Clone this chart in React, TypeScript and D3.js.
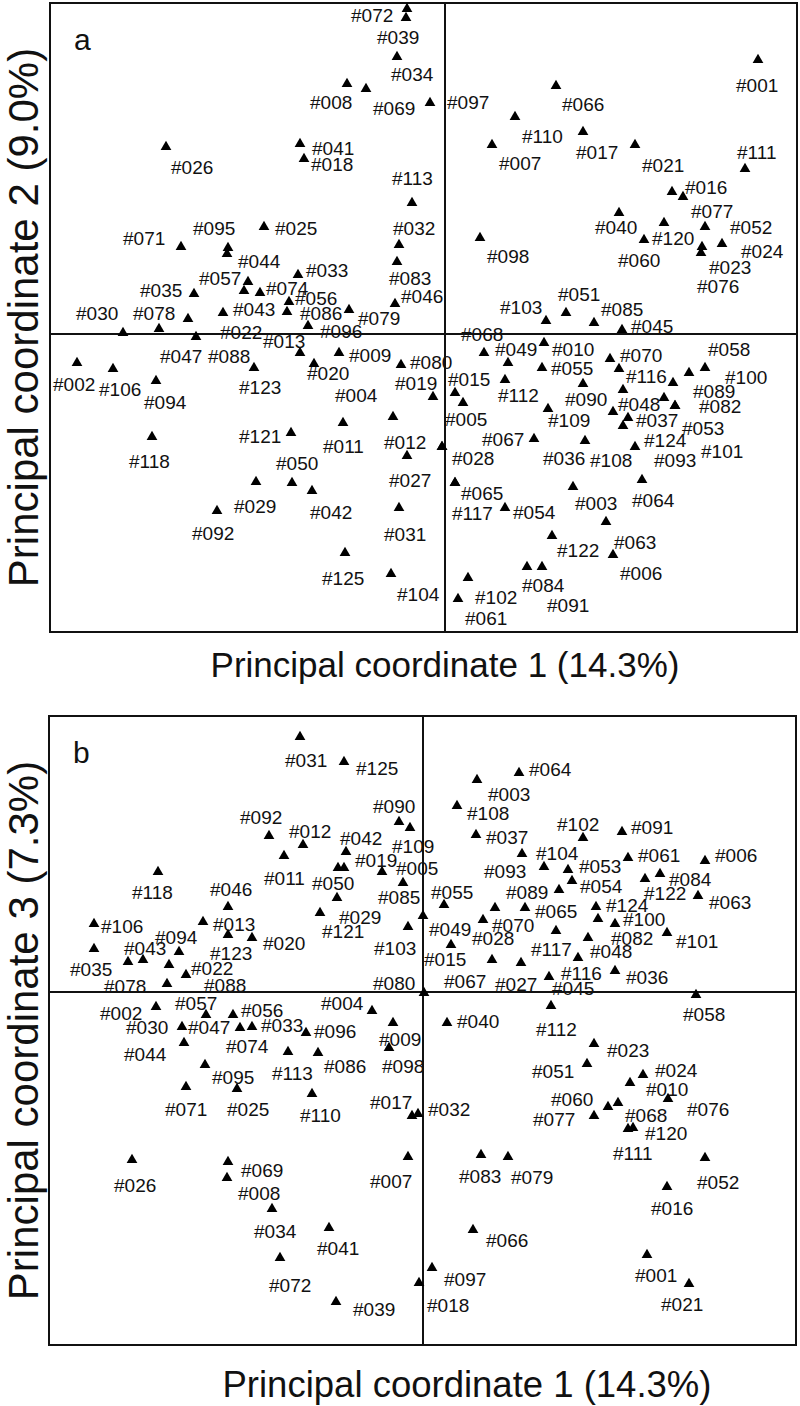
import React from "react";
import * as d3 from "d3";

// panel a: principal coordinates 1 and 2
const idsA = ["#072","#039","#034","#008","#069","#097","#066","#001","#110","#017","#007","#021","#111","#026","#041","#018","#016","#077","#113","#040","#120","#060","#052","#024","#023","#076","#025","#095","#071","#044","#032","#098","#083","#033","#057","#074","#035","#043","#056","#046","#051","#085","#030","#078","#086","#079","#103","#022","#096","#045","#068","#013","#010","#070","#049","#058","#009","#080","#047","#088","#020","#055","#116","#100","#002","#106","#019","#015","#089","#123","#094","#004","#112","#090","#048","#082","#005","#109","#037","#053","#067","#121","#011","#012","#124","#118","#036","#108","#093","#101","#028","#050","#027","#064","#065","#003","#029","#042","#117","#054","#092","#031","#063","#122","#125","#006","#084","#104","#102","#091","#061"];
const pc1A = [-0.038,-0.039,-0.048,-0.098,-0.079,-0.015,0.111,0.313,0.070,0.138,0.047,0.190,0.300,-0.279,-0.145,-0.141,0.227,0.238,-0.033,0.174,0.219,0.199,0.260,0.277,0.257,0.256,-0.181,-0.217,-0.264,-0.218,-0.046,0.035,-0.048,-0.147,-0.197,-0.185,-0.251,-0.222,-0.156,-0.050,0.121,0.149,-0.322,-0.257,-0.158,-0.096,0.101,-0.249,-0.137,0.177,0.039,-0.145,0.099,0.165,0.063,0.260,-0.106,-0.044,-0.286,-0.201,-0.131,0.097,0.174,0.244,-0.368,-0.332,-0.012,0.010,0.228,-0.191,-0.289,-0.052,0.060,0.138,0.178,0.230,0.018,0.103,0.183,0.219,0.089,-0.154,-0.102,-0.003,0.190,-0.293,0.140,0.168,0.178,0.230,-0.003,-0.153,-0.038,0.197,0.010,0.128,-0.189,-0.133,0.010,0.060,-0.228,-0.046,0.161,0.107,-0.100,0.168,0.082,-0.054,0.023,0.097,0.013];
const pc2A = [0.325,0.316,0.277,0.250,0.245,0.231,0.248,0.274,0.217,0.202,0.189,0.189,0.165,0.187,0.190,0.175,0.142,0.137,0.131,0.121,0.111,0.094,0.107,0.090,0.087,0.081,0.107,0.086,0.087,0.080,0.089,0.096,0.072,0.059,0.052,0.041,0.040,0.021,0.032,0.030,0.021,0.011,0.001,0.015,0.022,0.024,0.013,-0.003,0.008,0.004,-0.019,-0.019,-0.009,-0.025,-0.029,-0.034,-0.019,-0.031,0.005,0.043,-0.030,-0.034,-0.035,-0.039,-0.029,-0.035,-0.063,-0.059,-0.049,-0.034,-0.047,-0.083,-0.046,-0.050,-0.056,-0.072,-0.069,-0.075,-0.084,-0.064,-0.105,-0.099,-0.089,-0.113,-0.113,-0.103,-0.107,-0.078,-0.092,-0.072,-0.113,-0.149,-0.122,-0.146,-0.149,-0.153,-0.148,-0.157,-0.149,-0.174,-0.177,-0.174,-0.188,-0.202,-0.219,-0.221,-0.233,-0.240,-0.244,-0.233,-0.265];

// panel b: principal coordinates 1 and 3
const idsB = ["#031","#125","#092","#012","#011","#090","#109","#042","#019","#050","#005","#085","#029","#121","#103","#080","#118","#046","#106","#013","#094","#020","#123","#043","#035","#022","#078","#088","#002","#057","#056","#030","#047","#033","#074","#044","#095","#071","#025","#113","#026","#069","#008","#034","#072","#003","#064","#108","#037","#093","#104","#055","#089","#049","#070","#028","#015","#067","#027","#102","#091","#061","#006","#053","#054","#084","#122","#063","#065","#124","#100","#082","#101","#117","#048","#116","#036","#045","#112","#058","#004","#096","#009","#098","#086","#110","#017","#032","#007","#083","#079","#066","#041","#039","#097","#018","#040","#023","#051","#024","#010","#076","#060","#068","#077","#120","#111","#052","#016","#001","#021"];
const pc1B = [-0.123,-0.079,-0.154,-0.120,-0.139,-0.024,-0.013,-0.077,-0.041,-0.085,-0.020,0.000,-0.086,-0.103,-0.015,0.001,-0.265,-0.195,-0.329,-0.220,-0.244,-0.171,-0.195,-0.295,-0.329,-0.237,-0.256,-0.254,-0.267,-0.217,-0.190,-0.241,-0.183,-0.171,-0.280,-0.239,-0.218,-0.237,-0.186,-0.135,-0.291,-0.195,-0.196,-0.151,-0.143,0.054,0.096,0.034,0.053,0.121,0.099,0.021,0.136,0.060,0.072,0.102,0.028,0.069,0.098,0.160,0.199,0.205,0.282,0.145,0.149,0.237,0.222,0.275,0.133,0.173,0.192,0.175,0.244,0.165,0.155,0.126,0.192,0.128,-0.079,0.273,-0.051,-0.117,-0.030,-0.034,-0.105,-0.111,-0.011,-0.005,-0.015,0.058,0.085,0.050,-0.094,-0.087,0.009,-0.004,0.024,0.171,0.164,0.220,0.207,0.245,0.185,0.195,0.171,0.210,0.205,0.282,0.244,0.224,0.266];
const pc3B = [0.255,0.230,0.156,0.147,0.136,0.170,0.164,0.140,0.120,0.124,0.109,0.076,0.094,0.079,0.065,-0.001,0.120,0.085,0.068,0.070,0.040,0.054,0.057,0.030,0.043,0.017,0.008,0.027,-0.015,-0.023,-0.023,-0.035,-0.036,-0.035,0.032,-0.051,-0.073,-0.095,-0.097,-0.060,-0.168,-0.170,-0.186,-0.217,-0.266,0.212,0.219,0.186,0.157,0.125,0.138,0.087,0.102,0.072,0.084,0.084,0.047,0.032,0.029,0.154,0.160,0.134,0.131,0.122,0.111,0.118,0.113,0.096,0.061,0.085,0.068,0.073,0.059,0.054,0.034,0.015,0.021,-0.014,0.124,-0.003,-0.019,-0.041,-0.031,-0.056,-0.061,-0.102,-0.124,-0.122,-0.165,-0.163,-0.165,-0.238,-0.236,-0.310,-0.276,-0.291,-0.031,-0.052,-0.072,-0.083,-0.091,-0.107,-0.115,-0.111,-0.124,-0.136,-0.137,-0.166,-0.195,-0.263,-0.292];

// label placement (px offset of text baseline from the marker)
const nudgeA: [number, number][] = [[-56,13],[-29,26],[-6,24],[-37,25],[7,26],[17,6],[6,25],[-22,32],[7,26],[-7,27],[7,25],[7,27],[-8,-10],[5,27],[12,11],[7,12],[13,2],[8,21],[-20,-18],[-24,21],[-12,22],[-26,27],[25,7],[19,14],[7,27],[-4,40],[11,8],[-35,-13],[-58,-2],[11,14],[-6,-10],[7,25],[-8,23],[8,2],[-49,3],[6,2],[-54,3],[10,3],[6,3],[6,-1],[-8,-12],[7,-7],[-47,-13],[-55,1],[13,8],[9,15],[-46,-7],[24,2],[12,12],[9,3],[-23,-12],[-37,-5],[8,13],[10,3],[-13,-7],[3,-12],[10,9],[9,4],[1,34],[-36,72],[-7,16],[9,7],[7,14],[36,11],[-24,28],[-14,27],[-38,-7],[-7,-7],[20,15],[-15,26],[-12,28],[-58,-15],[-7,22],[-18,22],[-5,21],[24,7],[-18,23],[0,18],[8,9],[18,37],[-52,7],[-52,10],[-20,30],[-58,2],[9,0],[-23,31],[-42,24],[-23,55],[31,41],[26,52],[10,18],[-16,-13],[-18,31],[-10,27],[6,17],[2,23],[-22,31],[-2,28],[-3,37],[8,11],[-25,29],[-15,33],[8,27],[5,21],[-23,32],[7,25],[-5,25],[6,27],[7,26],[5,45],[7,26]];
const nudgeB: [number, number][] = [[-15,30],[12,13],[-29,-12],[-14,-7],[-20,29],[-26,-9],[-18,25],[-6,-7],[-27,-5],[-26,22],[-7,-8],[-45,-12],[2,26],[2,25],[-34,28],[-51,-3],[-26,27],[-18,-11],[7,9],[10,9],[-24,-8],[11,12],[-18,25],[-4,-7],[-24,27],[5,0],[-63,9],[35,27],[-56,13],[-31,-5],[8,2],[-56,7],[-52,6],[9,5],[83,93],[-60,18],[7,19],[-21,29],[-10,27],[-16,28],[-18,32],[13,15],[11,22],[-18,29],[-11,34],[11,21],[10,3],[10,14],[10,9],[-60,11],[14,6],[-13,-6],[-53,9],[-54,16],[-3,24],[-53,37],[-27,21],[-48,28],[-26,28],[-26,-7],[9,2],[10,4],[10,1],[11,3],[8,12],[9,12],[-1,21],[11,13],[-21,-13],[10,5],[8,2],[13,26],[9,15],[-57,18],[12,0],[12,3],[11,13],[1,-11],[192,168],[-13,26],[-51,-1],[8,5],[-14,23],[-7,25],[6,20],[-12,28],[-42,-7],[10,2],[-38,31],[-22,28],[3,27],[13,17],[-12,27],[17,14],[12,18],[8,29],[10,5],[13,13],[-55,14],[12,2],[16,13],[19,17],[-57,-1],[7,19],[-61,10],[12,12],[-15,31],[-8,31],[-16,28],[-12,27],[-28,27]];

const FONT = "'Liberation Sans', Arial, sans-serif";
const INK = "#111";
const triangle = d3.symbol().type(d3.symbolTriangle).size(50)();

type PanelProps = {
  ids: string[];
  xs: number[];
  ys: number[];
  nudge: [number, number][];
  xDomain: [number, number];
  yDomain: [number, number];
  left: number;
  right: number;
  top: number;
  bottom: number;
  letter: string;
  xTitle: string;
  yTitle: string;
  xTitleX: number;
  xTitleY: number;
  xTitleSize: number;
};

function Panel(p: PanelProps) {
  const x = d3.scaleLinear().domain(p.xDomain).range([p.left, p.right]);
  const y = d3.scaleLinear().domain(p.yDomain).range([p.bottom, p.top]);
  const midY = (p.top + p.bottom) / 2;
  return (
    <g>
      <rect x={p.left} y={p.top} width={p.right - p.left} height={p.bottom - p.top}
        fill="none" stroke={INK} strokeWidth={2} />
      <line x1={x(0)} x2={x(0)} y1={p.top} y2={p.bottom} stroke={INK} strokeWidth={2} />
      <line x1={p.left} x2={p.right} y1={y(0)} y2={y(0)} stroke={INK} strokeWidth={2} />
      <text x={p.left + 24} y={p.top + 47} fontSize={30} fontFamily={FONT} fill={INK}>{p.letter}</text>
      {p.ids.map((id, i) => (
        <g key={id}>
          <path d={triangle!} transform={`translate(${x(p.xs[i])},${y(p.ys[i])})`} fill="#000" />
          <text x={x(p.xs[i]) + p.nudge[i][0]} y={y(p.ys[i]) + p.nudge[i][1]}
            fontSize={19} fontFamily={FONT} fill={INK}>{id}</text>
        </g>
      ))}
      <text x={p.xTitleX} y={p.xTitleY} textAnchor="middle" fontSize={p.xTitleSize}
        fontFamily={FONT} fill={INK}>{p.xTitle}</text>
      <text transform={`translate(38,${midY}) rotate(-90)`} textAnchor="middle" fontSize={42}
        fontFamily={FONT} fill={INK}>{p.yTitle}</text>
    </g>
  );
}

export default function App() {
  return (
    <svg width={800} height={1406} style={{ position: "absolute", left: 0, top: 0, background: "#fff" }}>
      <rect width={800} height={1406} fill="#fff" />
      <Panel ids={idsA} xs={pc1A} ys={pc2A} nudge={nudgeA}
        xDomain={[-0.395, 0.352]} yDomain={[-0.298, 0.331]}
        left={50} right={797} top={3} bottom={632} letter="a"
        xTitle="Principal coordinate 1 (14.3%)" yTitle="Principal coordinate 2 (9.0%)"
        xTitleX={445} xTitleY={677} xTitleSize={35} />
      <Panel ids={idsB} xs={pc1B} ys={pc3B} nudge={nudgeB}
        xDomain={[-0.374, 0.373]} yDomain={[-0.353, 0.276]}
        left={49} right={796} top={716} bottom={1345} letter="b"
        xTitle="Principal coordinate 1 (14.3%)" yTitle="Principal coordinate 3 (7.3%)"
        xTitleX={467} xTitleY={1397} xTitleSize={36.5} />
    </svg>
  );
}
